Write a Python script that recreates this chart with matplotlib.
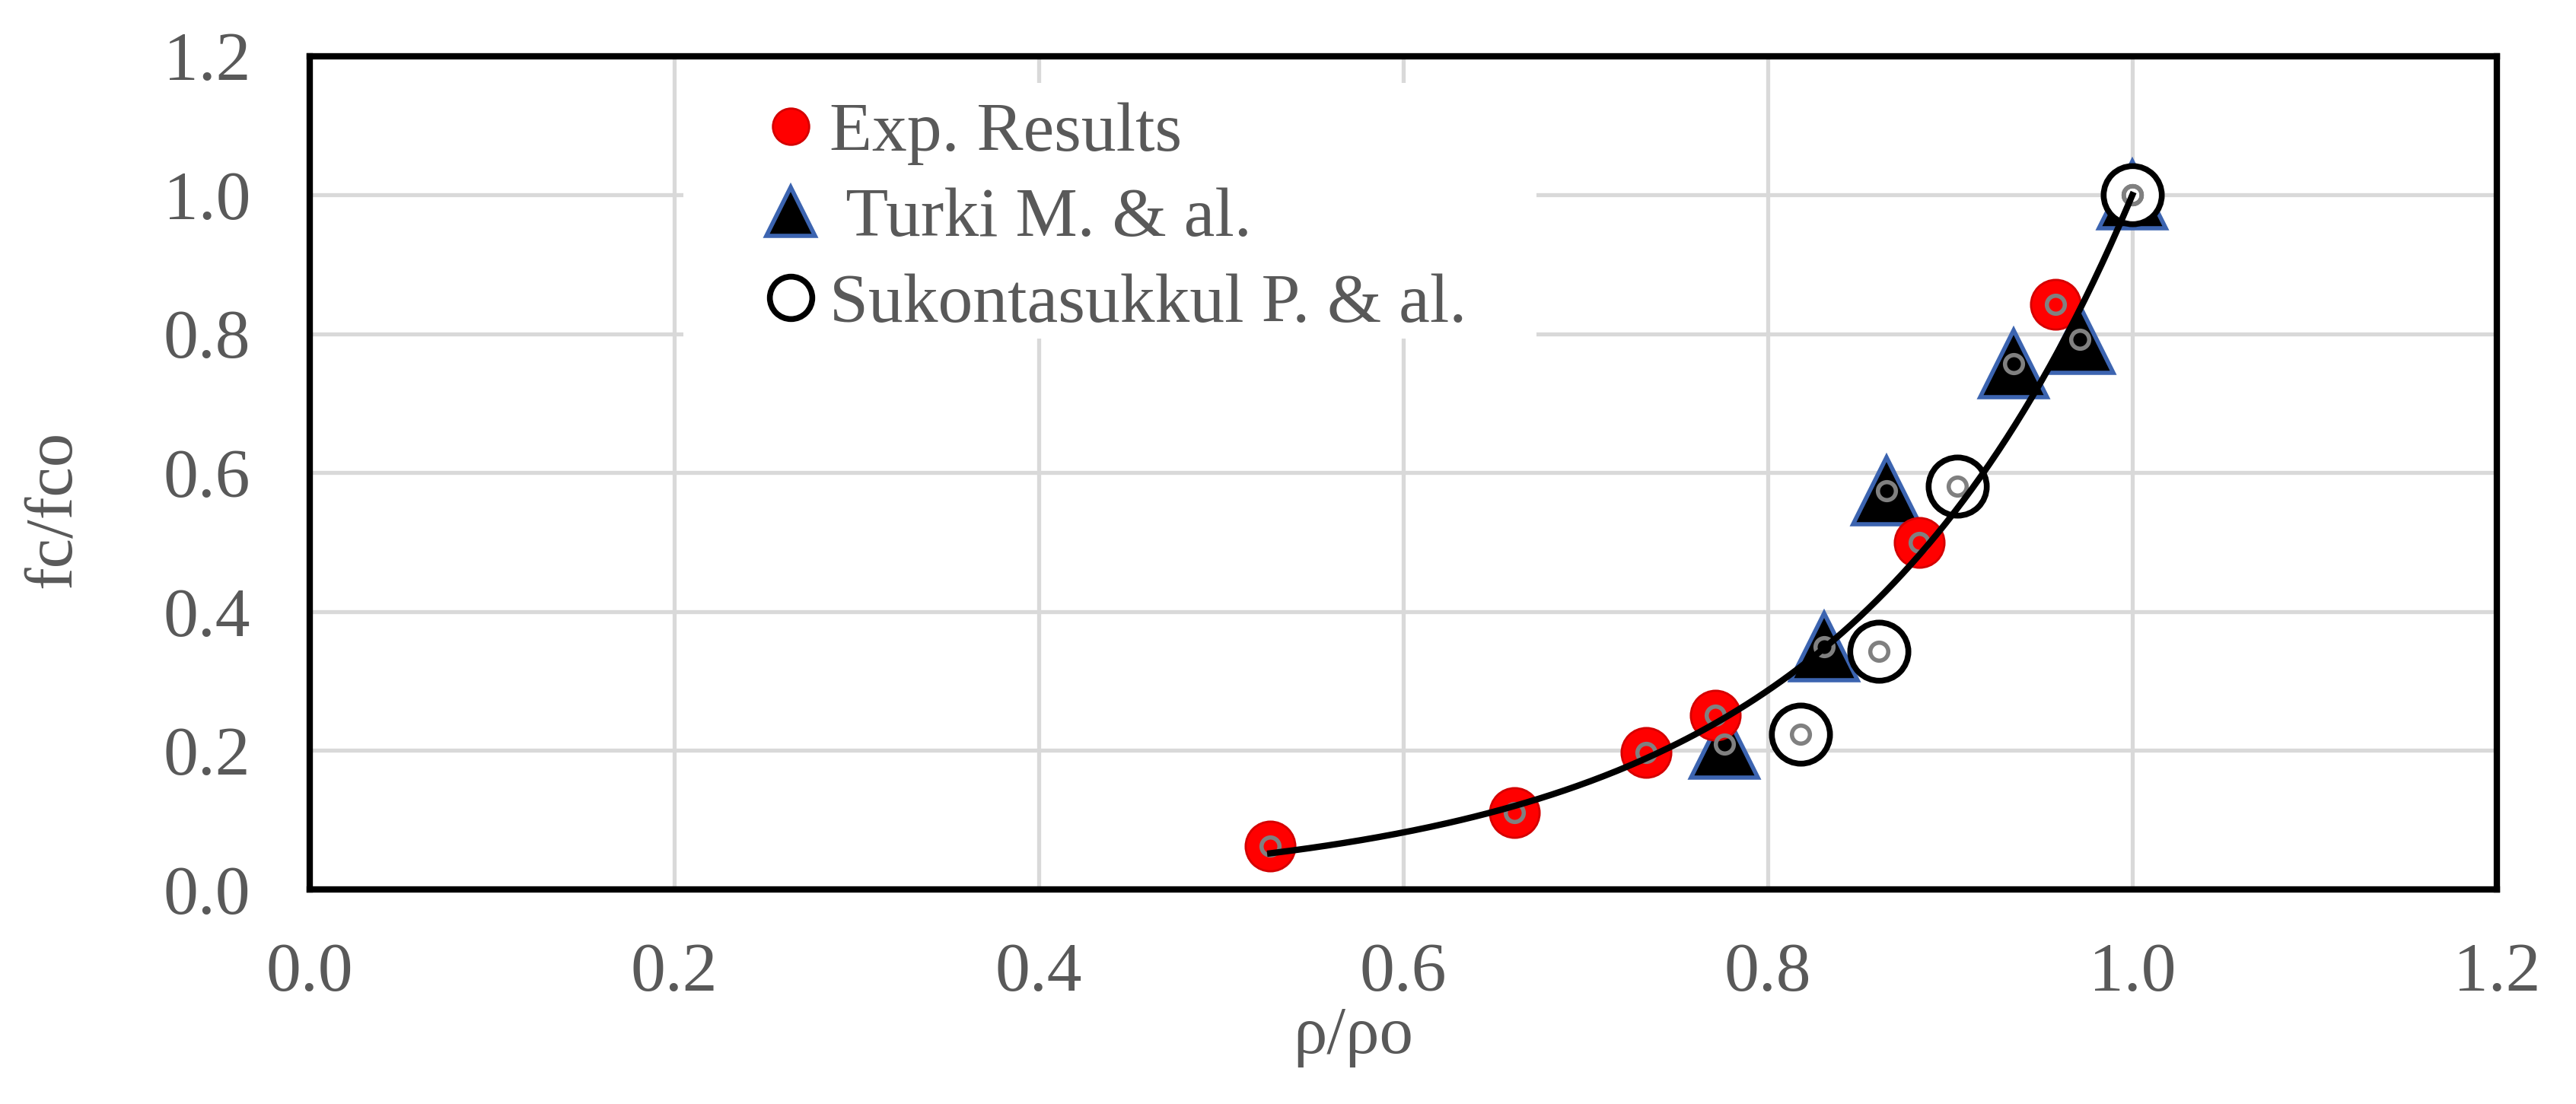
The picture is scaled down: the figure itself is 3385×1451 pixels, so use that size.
import numpy as np
import matplotlib
matplotlib.use("Agg")
import matplotlib.pyplot as plt
from matplotlib.patches import Rectangle

# values
exp_x = [0.527, 0.661, 0.733, 0.771, 0.883, 0.958, 1.0]
exp_y = [0.062, 0.111, 0.197, 0.251, 0.500, 0.842, 1.0]

turki_x = [0.776, 0.831, 0.865, 0.935, 0.971, 1.0]
turki_y = [0.209, 0.349, 0.574, 0.757, 0.792, 1.0]

suk_x = [0.818, 0.861, 0.904, 1.0]
suk_y = [0.223, 0.343, 0.581, 1.0]

# exponential trendline y = a * exp(b * x), coefficients estimated from the curve
trend_a = 0.00193
trend_b = 6.25
trend_range = (0.527, 1.0)

ticks = [0.0, 0.2, 0.4, 0.6, 0.8, 1.0, 1.2]
labels = ["Exp. Results", " Turki M. & al.", "Sukontasukkul P. & al."]

TEXT = "#595959"
plt.rcParams["font.family"] = ["Liberation Serif", "DejaVu Serif"]

fig = plt.figure(figsize=(33.85, 14.51), dpi=100)
ax = fig.add_axes([407 / 3385, 1 - 1169 / 1451, (3281 - 407) / 3385, (1169 - 73.5) / 1451])

ax.plot(turki_x, turki_y, ls="none", marker="^", ms=63, mfc="black",
        mec="#3c64b0", mew=4, label=labels[1], zorder=3)
ax.plot(exp_x, exp_y, ls="none", marker="o", ms=47, mfc="#ff0000",
        mec="#d40000", mew=2, label=labels[0], zorder=4)
ax.plot(suk_x, suk_y, ls="none", marker="o", ms=55, mfc="white",
        mec="black", mew=5.5, label=labels[2], zorder=5)

# small grey rings sitting on every point
all_x = exp_x + turki_x + suk_x
all_y = exp_y + turki_y + suk_y
ax.plot(all_x, all_y, ls="none", marker="o", ms=17, mfc="none",
        mec="#808080", mew=4, zorder=6)

xs = np.linspace(trend_range[0], trend_range[1], 200)
ax.plot(xs, trend_a * np.exp(trend_b * xs), color="black", lw=6, zorder=7)

ax.set_xlim(0, 1.2)
ax.set_ylim(0, 1.2)
ax.set_xticks(ticks)
ax.set_yticks(ticks)
ax.set_xticklabels([f"{t:.1f}" for t in ticks])
ax.set_yticklabels([f"{t:.1f}" for t in ticks])
ax.tick_params(axis="both", length=0, labelsize=66, labelcolor=TEXT)
ax.tick_params(axis="x", pad=50)
ax.tick_params(axis="y", pad=56)
ax.grid(True, color="#d9d9d9", lw=3.8, zorder=0)
ax.set_axisbelow(True)

for sp in ax.spines.values():
    sp.set_linewidth(6)
    sp.set_color("black")
    sp.set_zorder(8)

ax.set_xlabel("ρ/ρo", fontsize=64, color=TEXT, va="center")
ax.xaxis.set_label_coords(0.477, -0.177)
ax.set_ylabel("fc/fco", fontsize=64, color=TEXT, va="center")
ax.yaxis.set_label_coords(-0.117, 0.456)

# white legend area that hides the grid
ax.add_patch(Rectangle((0.171, 0.661), 0.39, 0.307, transform=ax.transAxes,
                       facecolor="white", edgecolor="none", zorder=1))

handles, labs = ax.get_legend_handles_labels()
order = [labs.index(l) for l in labels]
leg = ax.legend([handles[i] for i in order], [labs[i] for i in order],
                loc="upper left", bbox_to_anchor=(0.2105, 0.945),
                markerscale=0.73, fontsize=66, labelcolor=TEXT,
                frameon=False, borderpad=0, labelspacing=0.32,
                handlelength=0.6, handletextpad=0.25, borderaxespad=0)
leg.set_zorder(9)

fig.savefig("out.png", dpi=100)
